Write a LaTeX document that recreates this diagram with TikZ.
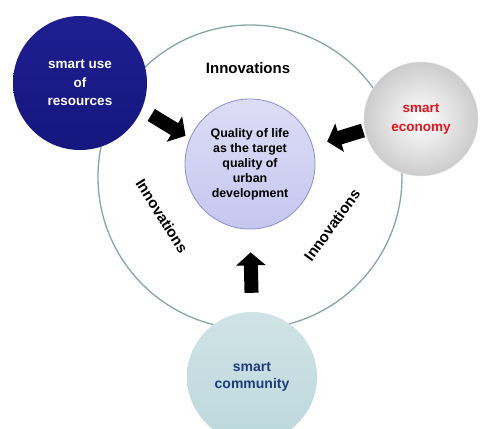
\documentclass[tikz,border=0pt]{standalone}
\usepackage{fontspec}
\setmainfont{Liberation Sans}
\usetikzlibrary{arrows.meta}

\definecolor{ringline}{HTML}{86A6A6}
\definecolor{navyfill}{HTML}{1E1E92}
\definecolor{navydark}{HTML}{16167E}
\definecolor{lavender}{HTML}{C6C6F0}
\definecolor{lavedge}{HTML}{8C8CD0}
\definecolor{tealfill}{HTML}{BCD8DC}
\definecolor{comtext}{HTML}{1F3D7A}
\definecolor{ecored}{HTML}{E8141C}

\begin{document}
\begin{tikzpicture}[x=1pt,y=-1pt,
	bubble/.style={circle,inner sep=0pt,align=center,font=\bfseries\fontsize{13.5}{18.5}\selectfont},
	innolabel/.style={font=\bfseries\fontsize{15}{18}\selectfont},
	pusharrow/.style={line width=14pt,-{Triangle[length=13pt,width=29pt]}}]
	%%%%% START %%%%%
	
	\useasboundingbox (0,0) rectangle (488,429);
	
	% outer ring
	\node[circle, draw=ringline, line width=1.3pt, minimum size=304pt] (ring) at (250,177) {};
	
	% centre
	\node[bubble, draw=lavedge, line width=0.8pt, top color=lavender!60, bottom color=lavender,
		minimum size=130pt, font=\bfseries\fontsize{12.4}{15}\selectfont] (life) at (250,164)
		{Quality of life\\as the target\\quality of\\urban\\development};
	
	% three pillars
	\node[bubble, top color=navyfill, bottom color=navydark, text=white, minimum size=134pt] (res) at (80,83)
		{smart use\\of\\resources};
	\node[bubble, draw=black!12, inner color=white, outer color=black!20, text=ecored, minimum size=114pt] (eco) at (421,119)
		{smart\\economy};
	\node[bubble, top color=tealfill!70, bottom color=tealfill, text=comtext, minimum size=130pt,
		font=\bfseries\fontsize{14}{17}\selectfont] (com) at (252,377)
		{smart\\community};
	
	\node[innolabel] (innoTop) at (248,68) {Innovations};
	\node[innolabel, rotate=-58] (innoLeft) at (162,216) {Innovations};
	\node[innolabel, rotate=54] (innoRight) at (332,225) {Innovations};
	
	% block arrows into the centre
	\draw[pusharrow, shorten <=11pt, shorten >=5pt] (res.-23) -- (life.157);
	\draw[pusharrow, shorten <=2pt, shorten >=15pt] (eco.191) -- (life.16);
	\draw[pusharrow, shorten <=19pt, shorten >=23pt] (com.north) -- (life.south);
	
	%%%%% END %%%%%
\end{tikzpicture}
\end{document}
